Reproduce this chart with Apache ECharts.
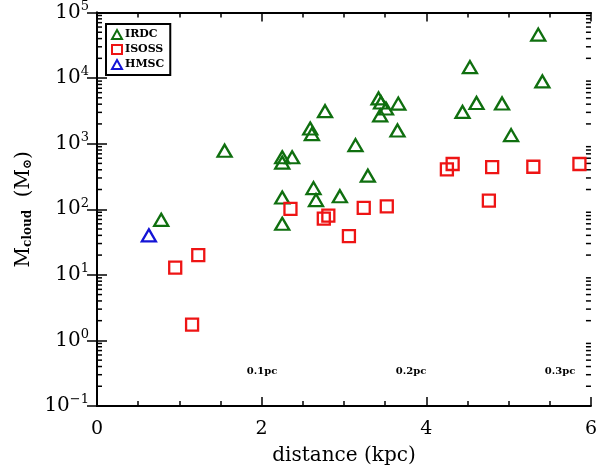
<!DOCTYPE html>
<html>
<head>
<meta charset="utf-8">
<script src="https://cdn.jsdelivr.net/npm/echarts@6/dist/echarts.min.js"></script>
<style>
	html, body { margin: 0; padding: 0; background: #fff; }
	#chart { width: 600px; height: 473px; }
</style>
</head>
<body>
<div id="chart"></div>
<script>
// IRDC clouds
var irdcDist = [0.78, 1.55, 2.25, 2.25, 2.25, 2.25, 2.37, 2.59, 2.61, 2.63, 2.66, 2.77, 2.95, 3.14,
	3.29, 3.42, 3.45, 3.51, 3.44, 3.65, 3.66, 4.44, 4.53, 4.61, 4.92, 5.03, 5.36, 5.41];
var irdcMass = [69, 780, 620, 515, 151, 60, 620, 1700, 1400, 210, 138, 3130, 158, 950,
	325, 4900, 4250, 3430, 2700, 1590, 4080, 3050, 14700, 4170, 4100, 1350, 46000, 8900];

// ISOSS clouds
var isossDist = [0.95, 1.155, 1.23, 2.35, 2.755, 2.81, 3.06, 3.24, 3.52, 4.25, 4.32, 4.76, 4.80, 5.30, 5.86];
var isossMass = [12.9, 1.74, 20, 101, 72, 80, 39, 105, 111, 405, 490, 135, 440, 445, 490];

// HMSC
var hmscDist = [0.63];
var hmscMass = [40];

// size labels
var sizeLabels = ['0.1pc', '0.2pc', '0.3pc'];
var sizeLabelX = [262, 411, 560];

// log axis minor ticks (2..9 per decade)
var yDecades = [-1, 0, 1, 2, 3, 4];
var yMantissa = [2, 3, 4, 5, 6, 7, 8, 9];

var font = 'DejaVu Serif';
var green = '#0f6f0f', red = '#ee1414', blue = '#1414d6';

function pairs(xs, ys) {
	var out = [];
	for (var i = 0; i < xs.length; i++) out.push([xs[i], ys[i]]);
	return out;
}

var yMinor = [];
for (var d = 0; d < yDecades.length; d++) {
	for (var m = 0; m < yMantissa.length; m++) {
		yMinor.push([0, yMantissa[m] * Math.pow(10, yDecades[d])]);
	}
}

var chart = echarts.init(document.getElementById('chart'));

var option = {
	animation: false,
	grid: { left: 97, right: 7, top: 10, bottom: 67 },
	legend: {
		data: ['IRDC', 'ISOSS', 'HMSC'],
		orient: 'vertical',
		left: 106,
		top: 24,
		itemGap: 4,
		itemWidth: 10,
		itemHeight: 9,
		padding: [5, 6, 5, 5],
		borderColor: '#000',
		borderWidth: 2,
		backgroundColor: '#fff',
		textStyle: { fontFamily: font, fontSize: 11, fontWeight: 'bold', color: '#000', padding: [0, 0, 0, -2] }
	},
	xAxis: [{
		type: 'value',
		min: 0, max: 6, interval: 2,
		name: 'distance (kpc)',
		nameLocation: 'middle',
		nameGap: 40,
		nameTextStyle: { fontFamily: font, fontSize: 20, color: '#000' },
		axisLine: { lineStyle: { color: '#000', width: 2 } },
		axisTick: { inside: true, length: 9, lineStyle: { color: '#000', width: 1.5 } },
		minorTick: { show: true, splitNumber: 4, length: 5, lineStyle: { color: '#000', width: 1.5 } },
		axisLabel: { fontFamily: font, fontSize: 19, color: '#000', margin: 14 },
		splitLine: { show: false }
	}, {
		type: 'value',
		position: 'top',
		min: 0, max: 6, interval: 2,
		axisLine: { lineStyle: { color: '#000', width: 2 } },
		axisTick: { inside: true, length: 9, lineStyle: { color: '#000', width: 1.5 } },
		minorTick: { show: true, splitNumber: 4, length: 5, lineStyle: { color: '#000', width: 1.5 } },
		axisLabel: { show: false },
		splitLine: { show: false }
	}],
	yAxis: [{
		type: 'log',
		logBase: 10,
		min: 0.1, max: 100000,
		name: '{m|M}{sub|cloud}{m|  (M}{sub|⊙}{m|)}',
		nameLocation: 'middle',
		nameRotate: 90,
		nameGap: 62,
		nameTextStyle: {
			color: '#000',
			rich: {
				m: { fontFamily: font, fontSize: 20, color: '#000' },
				sub: { fontFamily: font, fontSize: 12, fontWeight: 'bold', color: '#000', padding: [8, 0, 0, 0] }
			}
		},
		axisLine: { lineStyle: { color: '#000', width: 2 } },
		axisTick: { inside: true, length: 10, lineStyle: { color: '#000', width: 1.5 } },
		axisLabel: {
			margin: 8,
			formatter: function(v) {
				var e = Math.round(Math.log(v) / Math.LN10);
				return '{b|10}{s|' + (e < 0 ? '\u2212' + (-e) : e) + '}';
			},
			rich: {
				b: { fontFamily: font, fontSize: 20, color: '#000' },
				s: { fontFamily: font, fontSize: 13, color: '#000', padding: [0, 0, 12, 0] }
			}
		},
		splitLine: { show: false }
	}, {
		type: 'log',
		logBase: 10,
		min: 0.1, max: 100000,
		position: 'right',
		axisLine: { lineStyle: { color: '#000', width: 2 } },
		axisTick: { inside: true, length: 10, lineStyle: { color: '#000', width: 1.5 } },
		axisLabel: { show: false },
		splitLine: { show: false }
	}],
	graphic: sizeLabels.map(function(t, i) {
		return {
			type: 'text',
			x: sizeLabelX[i],
			y: 371,
			style: {
				text: t,
				fontFamily: font,
				fontSize: 10,
				fontWeight: 'bold',
				fill: '#000',
				textAlign: 'center',
				textVerticalAlign: 'middle'
			}
		};
	}),
	series: [{
		name: 'logTicks',
		type: 'custom',
		silent: true,
		encode: { x: 0, y: 1 },
		data: yMinor,
		renderItem: function(params, api) {
			var cs = params.coordSys;
			var y = api.coord([0, api.value(1)])[1];
			var st = { stroke: '#000', lineWidth: 1.5 };
			return {
				type: 'group',
				children: [
					{ type: 'line', shape: { x1: cs.x, y1: y, x2: cs.x + 5, y2: y }, style: st },
					{ type: 'line', shape: { x1: cs.x + cs.width, y1: y, x2: cs.x + cs.width - 5, y2: y }, style: st }
				]
			};
		}
	}, {
		name: 'IRDC',
		type: 'scatter',
		symbol: 'triangle',
		symbolSize: [14, 12],
		itemStyle: { color: 'rgba(0,0,0,0)', borderColor: green, borderWidth: 2.3, opacity: 1 },
		data: pairs(irdcDist, irdcMass)
	}, {
		name: 'ISOSS',
		type: 'scatter',
		symbol: 'rect',
		symbolSize: 12,
		itemStyle: { color: 'rgba(0,0,0,0)', borderColor: red, borderWidth: 2.3, opacity: 1 },
		data: pairs(isossDist, isossMass)
	}, {
		name: 'HMSC',
		type: 'scatter',
		symbol: 'triangle',
		symbolSize: [14, 12],
		itemStyle: { color: 'rgba(0,0,0,0)', borderColor: blue, borderWidth: 2.3, opacity: 1 },
		data: pairs(hmscDist, hmscMass)
	}]
};

chart.setOption(option);
</script>
</body>
</html>
